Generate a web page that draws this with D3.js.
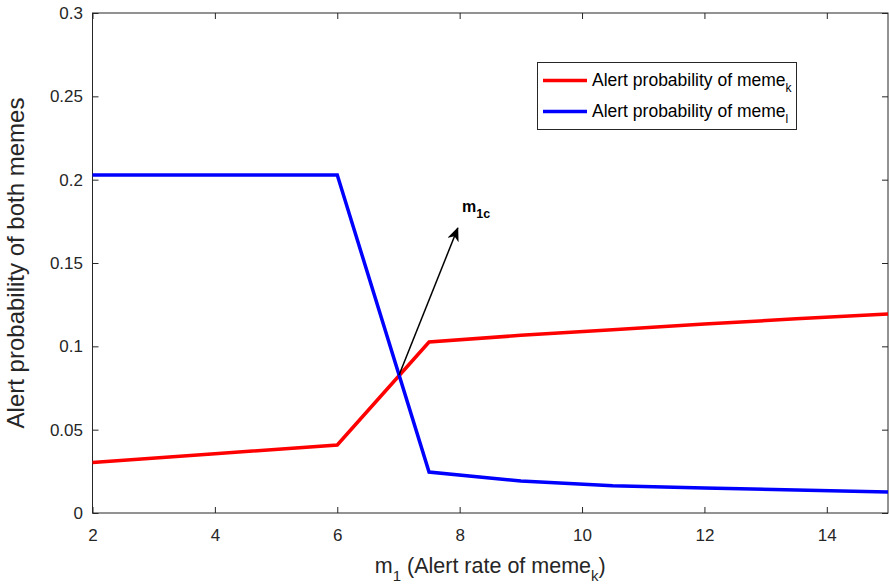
<!DOCTYPE html>
<html>
<head>
<meta charset="utf-8">
<script src="https://cdn.jsdelivr.net/npm/d3@7"></script>
<style>
  body { margin: 0; background: #fff; }
  text { font-family: "Liberation Sans", Arial, sans-serif; }
</style>
</head>
<body>
<div id="plot"></div>
<script>
// Data
var mValues = [2, 4, 6, 7.5, 9, 10.5, 12, 13.5, 15];
var alertK = [0.0303, 0.0355, 0.0408, 0.1026, 0.1066, 0.1100, 0.1134, 0.1165, 0.1194];
var alertL = [0.2028, 0.2028, 0.2028, 0.0246, 0.0192, 0.0163, 0.0150, 0.0138, 0.0126];
var xTicks = [2, 4, 6, 8, 10, 12, 14];
var yTicks = [0, 0.05, 0.1, 0.15, 0.2, 0.25, 0.3];
var arrowFrom = [7.01, 0.0828];
var arrowTo = [7.97, 0.171];

var svgWidth = 889;
var svgHeight = 585;
var margin = { top: 13, right: 1, bottom: 72, left: 92.5 };
var width = svgWidth - margin.left - margin.right;
var height = svgHeight - margin.top - margin.bottom;

var svg = d3.select("#plot").append("svg")
  .attr("width", svgWidth)
  .attr("height", svgHeight);

var g = svg.append("g")
  .attr("transform", `translate(${margin.left}, ${margin.top})`);

var x = d3.scaleLinear().domain([2, 15]).range([0, width]);
var y = d3.scaleLinear().domain([0, 0.3]).range([height, 0]);

// axes (MATLAB style: ticks inside, box on)
var bottomAxis = d3.axisBottom(x).tickValues(xTicks).tickSize(-6).tickPadding(16).tickFormat(d3.format("d"));
var leftAxis = d3.axisLeft(y).tickValues(yTicks).tickSize(-6).tickPadding(9.5).tickFormat(d => d);
var topAxis = d3.axisTop(x).tickValues(xTicks).tickSize(-6).tickFormat("");
var rightAxis = d3.axisRight(y).tickValues(yTicks).tickSize(-6).tickFormat("");

function styleAxis(sel) {
  sel.selectAll("path, line").attr("stroke", "#262626").attr("stroke-width", 1);
  sel.selectAll("text").attr("fill", "#262626").style("font-size", "17px");
}

g.append("g").attr("transform", `translate(0, ${height})`).call(bottomAxis).call(styleAxis);
g.append("g").call(leftAxis).call(styleAxis);
g.append("g").call(topAxis).call(styleAxis);
g.append("g").attr("transform", `translate(${width}, 0)`).call(rightAxis).call(styleAxis);
g.selectAll(".domain").attr("d", null);
g.append("rect")
  .attr("width", width).attr("height", height)
  .attr("fill", "none").attr("stroke", "#262626").attr("stroke-width", 1);

// lines
var line = d3.line()
  .x((d, i) => x(mValues[i]))
  .y(d => y(d));

g.append("path")
  .datum(alertK)
  .attr("fill", "none")
  .attr("stroke", "#ff0000")
  .attr("stroke-width", 3.5)
  .attr("d", line);

g.append("path")
  .datum(alertL)
  .attr("fill", "none")
  .attr("stroke", "#0000ff")
  .attr("stroke-width", 3.5)
  .attr("d", line);

// arrow annotation
svg.append("defs").append("marker")
  .attr("id", "arrowhead")
  .attr("viewBox", "0 0 14 12")
  .attr("refX", 13).attr("refY", 6)
  .attr("markerWidth", 14).attr("markerHeight", 12)
  .attr("markerUnits", "userSpaceOnUse")
  .attr("orient", "auto")
  .append("path")
  .attr("d", "M0,0 L14,6 L0,12 L4,6 Z")
  .attr("fill", "#000");

g.append("line")
  .attr("x1", x(arrowFrom[0])).attr("y1", y(arrowFrom[1]))
  .attr("x2", x(arrowTo[0])).attr("y2", y(arrowTo[1]))
  .attr("stroke", "#000").attr("stroke-width", 1.5)
  .attr("marker-end", "url(#arrowhead)");

var ann = svg.append("text")
  .attr("x", 462).attr("y", 212)
  .style("font-size", "16px").style("font-weight", "bold");
ann.append("tspan").text("m");
ann.append("tspan").attr("dy", 6).style("font-size", "12.5px").text("1c");

// axis labels
var xLabel = svg.append("text")
  .attr("x", margin.left + width / 2)
  .attr("y", 573)
  .attr("text-anchor", "middle")
  .attr("fill", "#262626")
  .style("font-size", "21.5px");
xLabel.append("tspan").text("m");
xLabel.append("tspan").attr("dy", 8).style("font-size", "15px").text("1");
xLabel.append("tspan").attr("dy", -8).text(" (Alert rate of meme");
xLabel.append("tspan").attr("dy", 8).style("font-size", "15px").text("k");
xLabel.append("tspan").attr("dy", -8).text(")");

svg.append("text")
  .attr("transform", `translate(24, 263) rotate(-90)`)
  .attr("text-anchor", "middle")
  .attr("fill", "#262626")
  .style("font-size", "24px")
  .text("Alert probability of both memes");

// legend
var legend = svg.append("g").attr("transform", "translate(537.5, 62.5)");
legend.append("rect")
  .attr("width", 259).attr("height", 67)
  .attr("fill", "#fff").attr("stroke", "#262626").attr("stroke-width", 1);

var legendItems = [
  { name: "Alert probability of meme", sub: "k", color: "#ff0000" },
  { name: "Alert probability of meme", sub: "l", color: "#0000ff" }
];

legendItems.forEach(function(d, i) {
  var row = legend.append("g").attr("transform", `translate(0, ${18 + i * 31})`);
  row.append("line")
    .attr("x1", 5.5).attr("x2", 49.5)
    .attr("stroke", d.color).attr("stroke-width", 3.5);
  var t = row.append("text")
    .attr("x", 54.5).attr("y", 5)
    .attr("fill", "#000")
    .style("font-size", "17.5px");
  t.append("tspan").text(d.name);
  t.append("tspan").attr("dy", 6).style("font-size", "12px").text(d.sub);
});
</script>
</body>
</html>
